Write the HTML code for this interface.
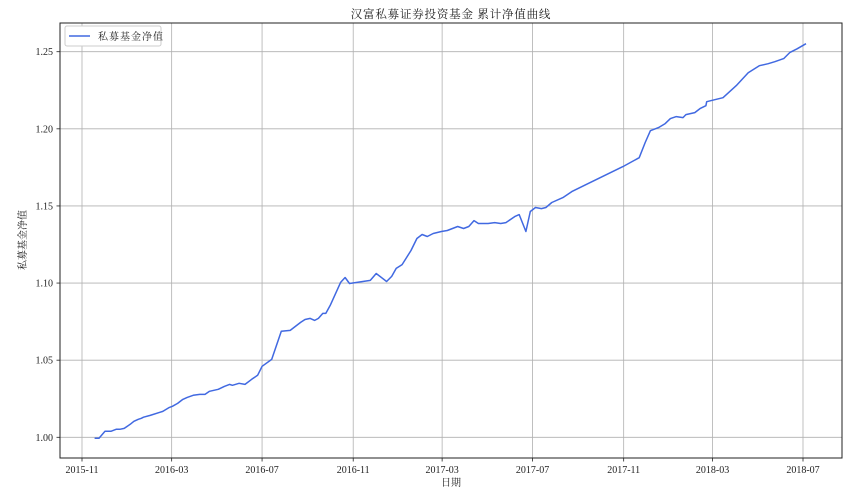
<!DOCTYPE html>
<html><head><meta charset="utf-8">
<style>
html,body{margin:0;padding:0;background:#fff;}
svg{display:block;font-family:"Liberation Serif","Noto Serif CJK SC",serif;}
</style></head>
<body>
<svg id="chart" width="861" height="500" viewBox="0 0 861 500" xmlns="http://www.w3.org/2000/svg">
<rect x="0" y="0" width="861" height="500" fill="#fff"/>
<text x="451" y="18" text-anchor="middle" font-size="11.5" letter-spacing="0.8" fill="#222">汉富私募证券投资基金 累计净值曲线</text>
<g id="grid"></g>
<g id="series"></g>
<rect x="60" y="23" width="782" height="435" fill="none" stroke="#222" stroke-width="1"/>
<g id="axes"></g>
<text x="451" y="486" text-anchor="middle" font-size="10" fill="#222">日期</text>
<text x="0" y="0" transform="translate(26,240) rotate(-90)" text-anchor="middle" font-size="10" fill="#222">私募基金净值</text>
<g>
<rect x="65" y="26" width="96" height="20" rx="2" fill="#fff" stroke="#ccc" stroke-width="1"/>
<line x1="69" y1="36" x2="90" y2="36" stroke="#4169e1" stroke-width="1.5"/>
<text x="98" y="40" font-size="10" letter-spacing="1" fill="#222">私募基金净值</text>
</g>
</svg>
<script>
const dates = ["2015-11-18","2015-11-24","2015-12-02","2015-12-10","2015-12-17","2015-12-22","2015-12-28","2016-01-05","2016-01-10","2016-01-16","2016-01-20","2016-01-23","2016-02-01","2016-02-14","2016-02-18","2016-02-27","2016-03-02","2016-03-09","2016-03-16","2016-03-22","2016-03-30","2016-04-08","2016-04-15","2016-04-21","2016-05-03","2016-05-11","2016-05-18","2016-05-22","2016-05-31","2016-06-08","2016-06-17","2016-06-25","2016-07-01","2016-07-14","2016-07-27","2016-08-08","2016-08-15","2016-08-22","2016-08-28","2016-09-04","2016-09-10","2016-09-15","2016-09-21","2016-09-25","2016-10-01","2016-10-15","2016-10-21","2016-10-27","2016-11-24","2016-12-02","2016-12-16","2016-12-23","2016-12-29","2017-01-06","2017-01-18","2017-01-26","2017-02-02","2017-02-09","2017-02-17","2017-02-28","2017-03-08","2017-03-22","2017-03-30","2017-04-06","2017-04-13","2017-04-19","2017-05-02","2017-05-11","2017-05-19","2017-05-26","2017-06-07","2017-06-13","2017-06-22","2017-06-28","2017-07-05","2017-07-13","2017-07-19","2017-07-27","2017-08-11","2017-08-23","2017-09-14","2017-10-31","2017-11-22","2017-11-30","2017-12-07","2017-12-18","2017-12-27","2018-01-03","2018-01-11","2018-01-20","2018-01-24","2018-02-05","2018-02-12","2018-02-20","2018-02-21","2018-03-04","2018-03-15","2018-04-02","2018-04-18","2018-05-03","2018-05-15","2018-05-24","2018-06-05","2018-06-13","2018-06-23","2018-07-05"];
const navValues = [0.9994,0.9994,1.0039,1.0039,1.0052,1.0052,1.0058,1.0084,1.0104,1.0117,1.0123,1.0130,1.0142,1.0162,1.0168,1.0194,1.0201,1.0220,1.0246,1.0259,1.0272,1.0278,1.0278,1.0298,1.0311,1.0330,1.0343,1.0337,1.0350,1.0343,1.0376,1.0402,1.0460,1.0505,1.0687,1.0693,1.0719,1.0745,1.0764,1.0771,1.0758,1.0771,1.0803,1.0803,1.0855,1.1004,1.1036,1.0997,1.1017,1.1062,1.1010,1.1043,1.1095,1.1120,1.1211,1.1289,1.1315,1.1302,1.1321,1.1334,1.1341,1.1367,1.1354,1.1367,1.1405,1.1386,1.1386,1.1392,1.1386,1.1392,1.1431,1.1444,1.1334,1.1464,1.1490,1.1483,1.1490,1.1522,1.1554,1.1593,1.1645,1.1755,1.1813,1.1911,1.1988,1.2008,1.2034,1.2066,1.2079,1.2073,1.2092,1.2105,1.2131,1.2150,1.2176,1.2189,1.2202,1.2280,1.2364,1.2409,1.2422,1.2435,1.2455,1.2494,1.2519,1.2552];
const xTickLabels = ["2015-11","2016-03","2016-07","2016-11","2017-03","2017-07","2017-11","2018-03","2018-07"];
const yTickLabels = ["1.00","1.05","1.10","1.15","1.20","1.25"];

const NS = "http://www.w3.org/2000/svg";
const PL = 60, PR = 842, PT = 23, PB = 458;
const T0 = Date.UTC(2015,10,1), T1 = Date.UTC(2018,6,1);
function parseDate(s){const p=s.split("-").map(Number);return Date.UTC(p[0],p[1]-1,p[2]||1);}
function xScale(s){return 82 + (parseDate(s)-T0)/(T1-T0)*(803-82);}
function yScale(v){return 437.3 - (v-1.0)/0.25*(437.3-51.7);}
function mk(tag, attrs, parent){const e=document.createElementNS(NS,tag);for(const k in attrs)e.setAttribute(k,attrs[k]);parent.appendChild(e);return e;}

const grid = document.getElementById("grid"), axes = document.getElementById("axes"), series = document.getElementById("series");
xTickLabels.forEach(function(lbl){
  const x = xScale(lbl);
  const g = mk("line",{x1:x,y1:PT,x2:x,y2:PB,stroke:"#b0b0b0","stroke-width":0.8},grid);
  
  
  mk("line",{x1:x,y1:PB,x2:x,y2:PB+3.5,stroke:"#222","stroke-width":0.8},axes);
  const t = mk("text",{x:x,y:PB+15,"text-anchor":"middle","font-size":"10",fill:"#222"},axes);
  t.textContent = lbl;
  
  
});
yTickLabels.forEach(function(lbl){
  const y = yScale(parseFloat(lbl));
  const g = mk("line",{x1:PL,y1:y,x2:PR,y2:y,stroke:"#b0b0b0","stroke-width":0.8},grid);
  
  
  mk("line",{x1:PL-3.5,y1:y,x2:PL,y2:y,stroke:"#222","stroke-width":0.8},axes);
  const t = mk("text",{x:PL-7,y:y+3.5,"text-anchor":"end","font-size":"10",fill:"#222"},axes);
  t.textContent = lbl;
  
  
});
const pts = dates.map(function(d,i){return xScale(d).toFixed(1)+","+yScale(navValues[i]).toFixed(1);}).join(" ");
const line = mk("polyline",{points:pts,fill:"none",stroke:"#4169e1","stroke-width":1.5,"stroke-linejoin":"round"},series);


</script>
</body></html>
